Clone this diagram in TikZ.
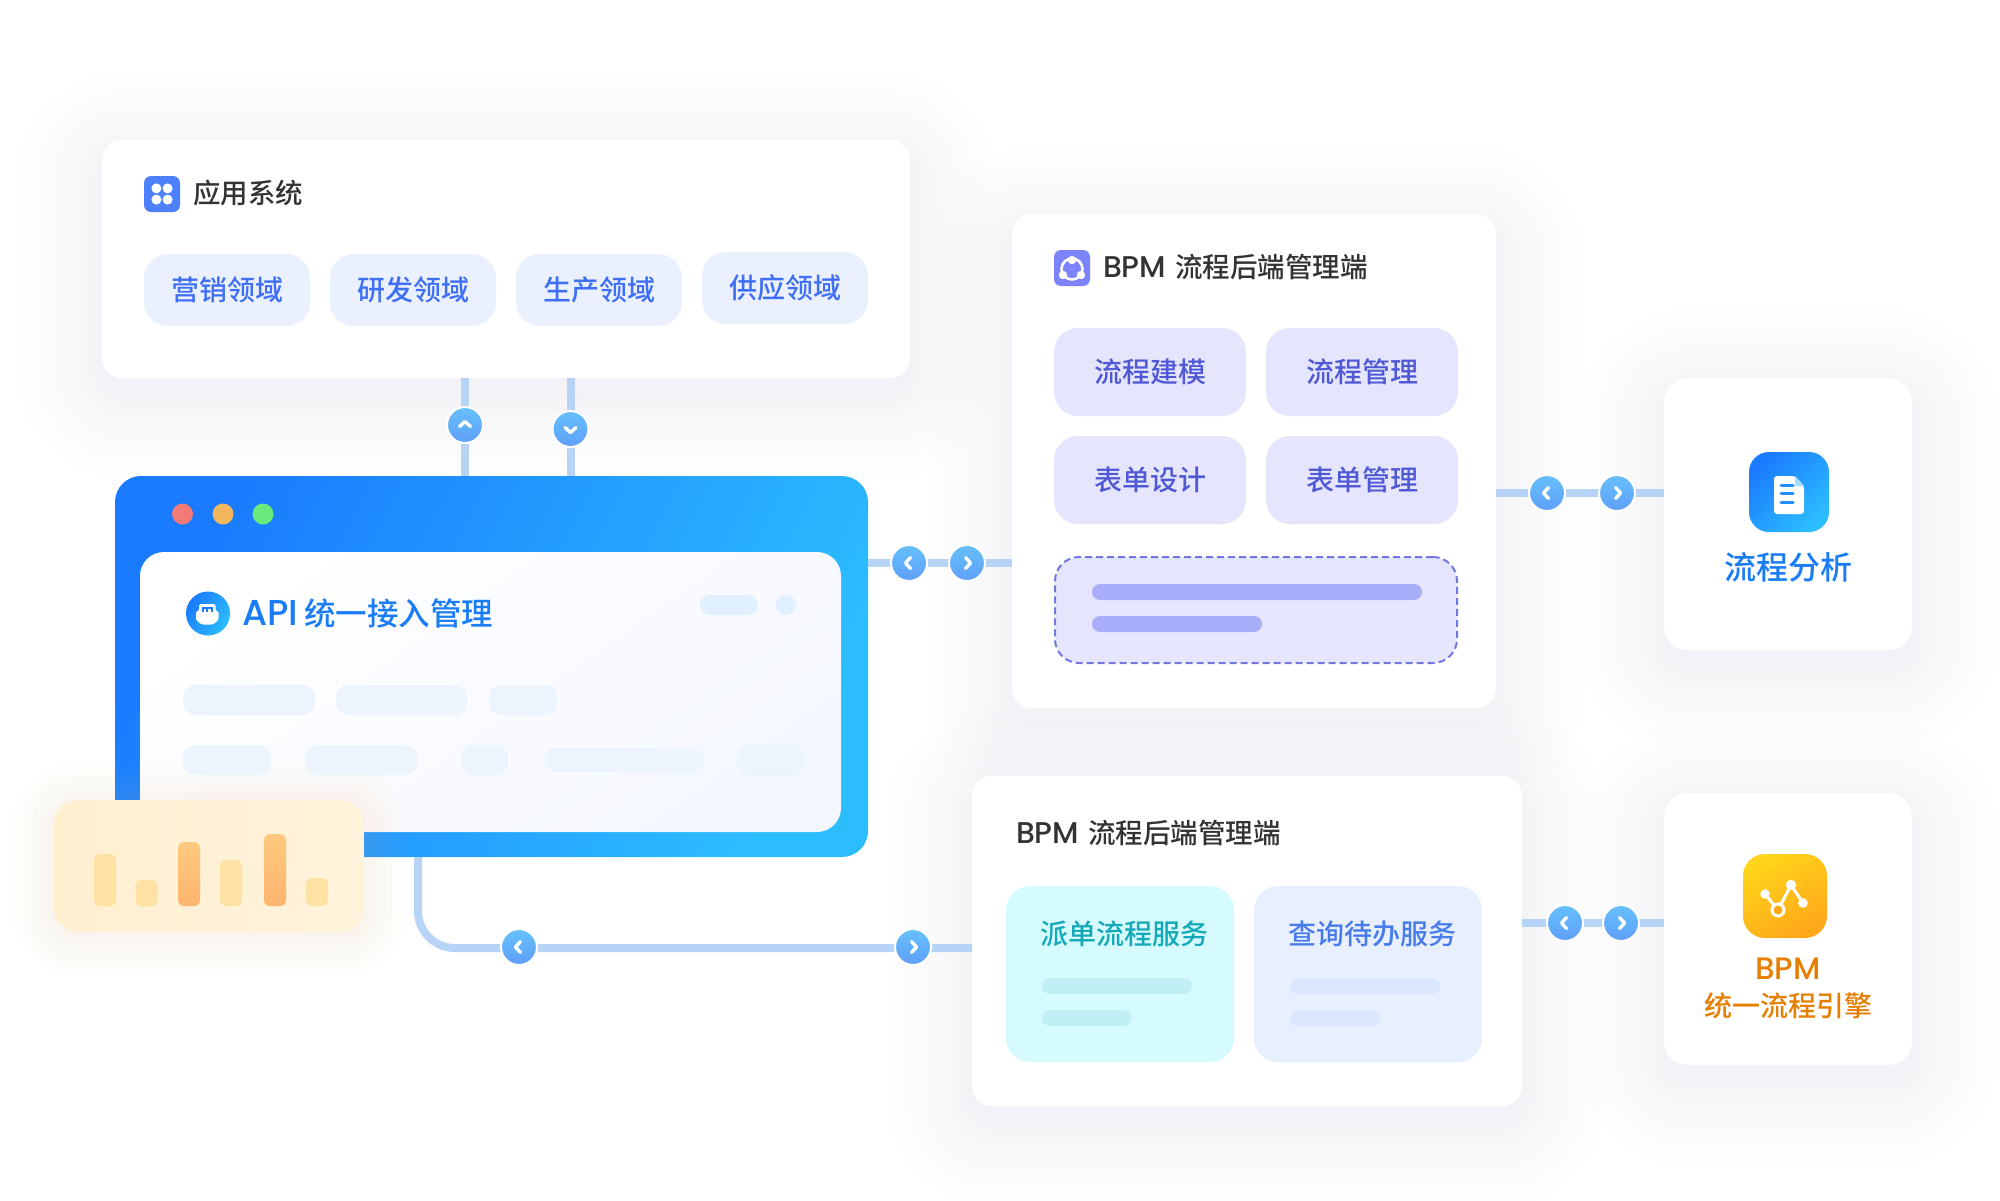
\documentclass[tikz,border=0pt]{standalone}
\usepackage{fontspec}
\usetikzlibrary{calc}
\setmainfont{Poppins}
\newfontfamily\cjk{Noto Sans CJK SC Medium}
\newfontfamily\ltn{Poppins Medium}
\definecolor{lineC}{HTML}{B7D4F6}
\definecolor{shadowC}{RGB}{207,211,252}
\definecolor{shadowCb}{RGB}{207,211,245}
\definecolor{dark}{HTML}{333333}
\definecolor{winA}{HTML}{1A7BFF}
\definecolor{winB}{HTML}{2CBDFF}
\definecolor{pillB}{HTML}{EAF0FE}
\definecolor{pillBt}{HTML}{3F6FF5}
\definecolor{pillP}{HTML}{E5E6FD}
\definecolor{pillPt}{HTML}{4F59D6}
\definecolor{barP}{HTML}{A9AEFB}
\definecolor{dashP}{HTML}{7078E0}
\definecolor{apiT}{HTML}{1A7DF5}
\definecolor{ghostA}{HTML}{ECF4FE}
\definecolor{ghostB}{HTML}{E1F0FE}
\definecolor{cyanF}{HTML}{D6FBFF}
\definecolor{cyanT}{HTML}{14A9B8}
\definecolor{cyanB}{HTML}{C0F0F5}
\definecolor{blueF}{HTML}{E8EFFE}
\definecolor{blueT}{HTML}{477CEA}
\definecolor{blueB}{HTML}{DBE7FD}
\definecolor{orangeT}{HTML}{E67E00}
\definecolor{barY}{HTML}{FEE2A4}
\definecolor{barOa}{HTML}{FECA7E}
\definecolor{barOb}{HTML}{FEB46E}
\definecolor{ytA}{HTML}{FEEFCF}
\definecolor{ytB}{HTML}{FFF3DC}
\definecolor{btnA}{HTML}{66C0FA}
\definecolor{btnM}{HTML}{48A5F9}
\definecolor{btnB}{HTML}{5F9FFA}
\definecolor{dotR}{HTML}{F47A78}
\definecolor{dotY}{HTML}{F2B75D}
\definecolor{dotG}{HTML}{68EA7C}
\definecolor{iconB}{HTML}{4D80FB}
\definecolor{iconP}{HTML}{7C83FD}
\definecolor{goldA}{HTML}{FFD41A}
\definecolor{goldB}{HTML}{FFA81A}
\definecolor{foldC}{HTML}{A5DCFB}
\definecolor{panelB}{HTML}{F4F7FE}
\definecolor{warm}{HTML}{FAD9A0}
\definecolor{warmb}{HTML}{FAD9A0}
\pgfdeclarelayer{top}
\pgfsetlayers{main,top}
\tikzset{
  box/.style={inner sep=0pt,outer sep=0pt,align=center},
  card/.style={box,fill=white,rounded corners=24pt},
  pill/.style={box,rounded corners=24pt,font=\cjk\fontsize{28}{33}\selectfont},
  ghost/.style={box,rounded corners=12pt},
  dot/.style={circle,minimum size=21pt,inner sep=0pt,outer sep=0pt},
  label/.style={inner sep=0pt,outer sep=0pt},
  conn/.style={draw=lineC,line width=8pt},
  btn/.style={circle,inner sep=0pt,outer sep=0pt,minimum size=36pt,draw=white,line width=2pt,
    shade,top color=btnA,middle color=btnM,bottom color=btnB},
  chevron/.style={draw=white,line width=3.4pt,line cap=round,line join=round},
  title/.style={label,anchor=west,text=dark,font=\cjk\fontsize{27.5}{33}\selectfont},
}
\newcommand{\blk}[7]{\node[box,#6,minimum width={(#4-#2)*1pt},minimum height={(#5-#3)*1pt}] (#1) at ({(#2+#4)/2},{(#3+#5)/2}) {#7};}
\newcommand{\softshade}[8]{%
  \foreach \i in {1,...,12}{%
    \pgfmathsetmacro{\dd}{#7*pow((13-\i)/12,1.5)}%
    \pgfmathsetmacro{\rr}{#5+\dd}%
    \ifodd\i \def\cc{#6}\else\def\cc{#6b}\fi
    \fill[\cc,opacity=#8,rounded corners=\rr pt] (#1-\dd,#2-\dd+16) rectangle (#3+\dd,#4+\dd+16);
  }}
\newcommand{\chev}[2]{\draw[chevron,shift={(#1.center)},rotate=#2] (1.5,-5.5)--(-3.5,0)--(1.5,5.5);}
\newcommand{\bpmlabel}{\makebox[72pt][l]{\ltn\fontsize{30}{33}\selectfont BPM}}
\begin{document}
\begin{tikzpicture}[x=1pt,y=-1pt]
\useasboundingbox (0,0) rectangle (2000,1200);
\fill[white] (0,0) rectangle (2000,1200);
% soft shadows
\softshade{102}{140}{910}{378}{24}{shadowC}{85}{.02}
\softshade{1012}{214}{1496}{708}{24}{shadowC}{85}{.02}
\softshade{972}{776}{1522}{1106}{24}{shadowC}{85}{.02}
\softshade{1664}{378}{1912}{650}{24}{shadowC}{85}{.02}
\softshade{1664}{793}{1912}{1065}{24}{shadowC}{85}{.02}
% cards
\blk{app}{102}{140}{910}{378}{card,rounded corners=20pt}{}
\blk{bpmA}{1012}{214}{1496}{708}{card,rounded corners=20pt}{}
\blk{bpmB}{972}{776}{1522}{1106}{card,rounded corners=20pt}{}
\blk{ana}{1664}{378}{1912}{650}{card}{}
\blk{eng}{1664}{793}{1912}{1065}{card}{}
% main window
\blk{win}{115}{476}{868}{857}{rounded corners=26pt,top color=winA,bottom color=winB,shading angle=62}{}
\blk{panel}{140}{552}{841}{832}{rounded corners=24pt,top color=white,bottom color=panelB,shading angle=35}{}
\node[dot,fill=dotR] (dr) at (182.5,514) {};
\node[dot,fill=dotY] (dy) at (223,514) {};
\node[dot,fill=dotG] (dg) at (263,514) {};
% connector buttons, kept on the top layer
\begin{pgfonlayer}{top}
\node[btn] (up) at (465,425) {};
\node[btn] (down) at (570.5,429) {};
\node[btn] (wL) at (909,563) {};
\node[btn] (wR) at (967,563) {};
\node[btn] (aL) at (1547,493) {};
\node[btn] (aR) at (1617,493) {};
\node[btn] (eL) at (1565,923) {};
\node[btn] (eR) at (1621,923) {};
\node[btn] (bL) at (519,947) {};
\node[btn] (bR) at (913,947) {};
\foreach \n/\a in {up/-90,down/90,wL/0,wR/180,aL/0,aR/180,eL/0,eR/180,bL/0,bR/180}{\chev{\n}{\a}}
\end{pgfonlayer}
\coordinate (elb) at (418,948);
% connectors
\draw[conn,xshift=-1pt] (app.south -| up) -- (win.north -| up);
\draw[conn,xshift=-1pt] (app.south -| down) -- (win.north -| down);
\draw[conn,yshift=-1pt] (win.east |- wL) -- (bpmA.west |- wL);
\draw[conn,yshift=-1pt] (bpmA.east |- aL) -- (ana.west |- aL);
\draw[conn,yshift=-1pt] (bpmB.east |- eL) -- (eng.west |- eL);
\draw[conn,rounded corners=37pt] (win.south -| elb) -- (elb) -- (bpmB.west |- elb);
% yellow chart card
\softshade{54}{788}{364}{920}{24}{warm}{42}{.012}
\blk{chart}{54}{800}{364}{932}{rounded corners=24pt,left color=ytA,right color=ytB}{}
\blk{c1}{94}{854}{116}{906}{ghost,rounded corners=6pt,fill=barY}{}
\blk{c2}{135.5}{880}{157.5}{906}{ghost,rounded corners=6pt,fill=barY}{}
\blk{c3}{178}{842}{200}{906}{ghost,rounded corners=6pt,top color=barOa,bottom color=barOb}{}
\blk{c4}{220}{860}{242}{906}{ghost,rounded corners=6pt,fill=barY}{}
\blk{c5}{264}{834}{286}{906}{ghost,rounded corners=6pt,top color=barOa,bottom color=barOb}{}
\blk{c6}{306}{878}{328}{906}{ghost,rounded corners=6pt,fill=barY}{}
% app card contents
\blk{appIcon}{144}{176}{180}{212}{ghost,rounded corners=7pt,fill=iconB}{}
\foreach \dx in {-5.6,5.6}\foreach \dy in {-5.6,5.6}{\fill[white] ($(appIcon.center)+(\dx,\dy)$) circle (5pt);}
\node[title] (appT) at (193,193) {应用系统};
\blk{d1}{144}{254}{310}{326}{pill,fill=pillB,text=pillBt}{营销领域}
\blk{d2}{330}{254}{496}{326}{pill,fill=pillB,text=pillBt}{研发领域}
\blk{d3}{516}{254}{682}{326}{pill,fill=pillB,text=pillBt}{生产领域}
\blk{d4}{702}{252}{868}{324}{pill,fill=pillB,text=pillBt}{供应领域}
% window contents
\node[circle,minimum size=44pt,inner sep=0pt,top color=winA,bottom color=winB,shading angle=60] (apiIcon) at (208,613.5) {};
\fill[white,rounded corners=1.5pt] (199,604)--(215.5,604)--(215.5,611)--(218.5,611)--(218.5,620)--(213,624.5)--(201.5,624.5)--(196,620)--(196,611)--(199,611)--cycle;
\draw[winA,line width=2pt] (202.5,612)--(202.5,608)--(212,608)--(212,612) (207.2,608)--(207.2,612);
\node[label,anchor=west,text=apiT,font=\cjk\fontsize{31.5}{36}\selectfont] (apiL) at (242,613.5) {\makebox[62pt][l]{\ltn\fontsize{36}{36}\selectfont API}统一接入管理};
\blk{g1}{700}{595}{758}{615}{ghost,rounded corners=10pt,fill=ghostB}{}
\blk{g2}{776}{595}{796}{615}{ghost,rounded corners=10pt,fill=ghostB}{}
\blk{r1}{183}{685}{315}{715}{ghost,fill=ghostA}{}
\blk{r2}{336}{685}{467}{715}{ghost,fill=ghostA}{}
\blk{r3}{489}{685}{557}{715}{ghost,fill=ghostA}{}
\blk{s1}{183}{745}{271}{775}{ghost,fill=ghostA}{}
\blk{s2}{305}{745}{417}{775}{ghost,fill=ghostA}{}
\blk{s3}{461}{745}{508}{775}{ghost,fill=ghostA}{}
\blk{s4}{544}{748}{704}{772}{ghost,fill=ghostA}{}
\blk{s5}{737}{745}{805}{775}{ghost,fill=ghostA}{}
% BPM card A
\blk{bpmIcon}{1054}{250}{1090}{286}{ghost,rounded corners=7pt,fill=iconP}{}
\draw[white,line width=2.6pt] (1072,269) circle (10.5pt);
\fill[white] (1072,260) circle (4.2pt) (1063,275) circle (4.2pt) (1081,275) circle (4.2pt);
\node[title] (bpmT) at (1103,267) {\bpmlabel 流程后端管理端};
\blk{p1}{1054}{328}{1246}{416}{pill,fill=pillP,text=pillPt}{流程建模}
\blk{p2}{1266}{328}{1458}{416}{pill,fill=pillP,text=pillPt}{流程管理}
\blk{p3}{1054}{436}{1246}{524}{pill,fill=pillP,text=pillPt}{表单设计}
\blk{p4}{1266}{436}{1458}{524}{pill,fill=pillP,text=pillPt}{表单管理}
\blk{dash}{1055}{557}{1457}{663}{rounded corners=24pt,fill=pillP,draw=dashP,line width=2pt,dash pattern=on 7pt off 4pt}{}
\blk{b1}{1092}{584}{1422}{600}{ghost,rounded corners=8pt,fill=barP}{}
\blk{b2}{1092}{616}{1262}{632}{ghost,rounded corners=8pt,fill=barP}{}
% BPM card B
\node[title] (bpmU) at (1016,833) {\bpmlabel 流程后端管理端};
\blk{svcA}{1006}{886}{1234}{1062}{ghost,rounded corners=24pt,fill=cyanF}{}
\blk{svcB}{1254}{886}{1482}{1062}{ghost,rounded corners=24pt,fill=blueF}{}
\node[label,text=cyanT,font=\cjk\fontsize{28}{33}\selectfont] (svcAT) at (1124.5,934) {派单流程服务};
\node[label,text=blueT,font=\cjk\fontsize{28}{33}\selectfont] (svcBT) at (1372.5,934) {查询待办服务};
\blk{ca1}{1042}{978}{1192}{994}{ghost,rounded corners=8pt,fill=cyanB}{}
\blk{ca2}{1042}{1010}{1132}{1026}{ghost,rounded corners=8pt,fill=cyanB}{}
\blk{cb1}{1290}{978}{1440}{994}{ghost,rounded corners=8pt,fill=blueB}{}
\blk{cb2}{1290}{1010}{1380}{1026}{ghost,rounded corners=8pt,fill=blueB}{}
% analysis card
\blk{anaIcon}{1749}{452}{1829}{532}{rounded corners=20pt,top color=winA,bottom color=winB,shading angle=45}{}
\fill[white,rounded corners=3pt] (1774,476)--(1795,476)--(1804,486)--(1804,514)--(1774,514)--cycle;
\fill[foldC] (1795,476)--(1804,486)--(1795,486)--cycle;
\draw[winA!70!winB,line width=3pt,line cap=round] (1781,485.7)--(1793,485.7) (1781,493.5)--(1793,493.5) (1781,502)--(1793,502);
\node[label,text=apiT,font=\cjk\fontsize{32}{36}\selectfont] (anaT) at (1788,567) {流程分析};
% engine card
\blk{engIcon}{1743}{854}{1827}{938}{rounded corners=22pt,top color=goldA,bottom color=goldB,shading angle=30}{}
\draw[white,line width=3pt] (1765,894)--(1778,910)--(1791,885)--(1803,903);
\fill[white] (1765,894) circle (4.8pt) (1803,903) circle (4.8pt) (1791,885) circle (5.2pt);
\draw[white,line width=3pt,fill=goldB] (1778,910) circle (6pt);
\node[label,text=orangeT,font=\ltn\fontsize{31}{34}\selectfont] (engA) at (1788,969) {BPM};
\node[label,text=orangeT,font=\cjk\fontsize{28}{33}\selectfont] (engB) at (1788,1006) {统一流程引擎};
\end{tikzpicture}
\end{document}
